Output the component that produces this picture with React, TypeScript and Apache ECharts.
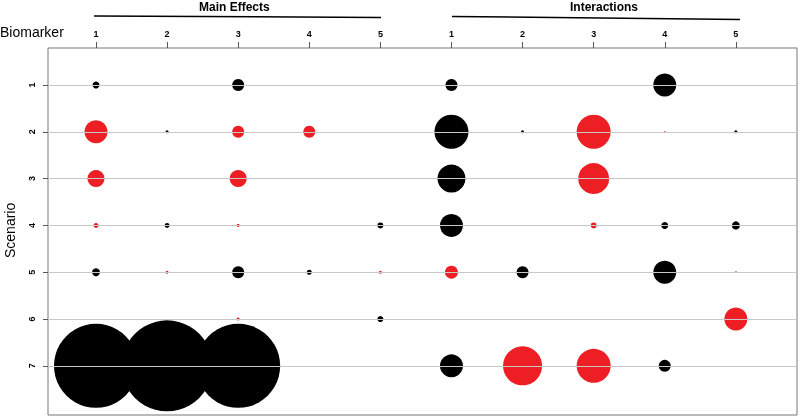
import React, { useEffect, useRef } from "react";
import * as echarts from "echarts";

const scenarios = [1, 2, 3, 4, 5, 6, 7];
const biomarkers = [1, 2, 3, 4, 5];
const groupTitles = ["Main Effects", "Interactions"];
// signed circle diameters: positive = black, negative = red
const mainEffects = [
  [7, 0, 12, 0, 0],
  [-23, 3, -12, -12, 0],
  [-17, 0, -17, 0, 0],
  [-5, 5, -3, 0, 6],
  [8, -3, 12, 5, -3],
  [0, 0, -3, 0, 6],
  [84, 91, 84, 0, 0],
];
const interactions = [
  [12, 0, 0, 23, 0],
  [34, 3, -34, -1.5, 3],
  [28, 0, -31, 0, 0],
  [23, 0, -6, 7, 8],
  [-13, 12, 0, 23, 1.5],
  [0, 0, 0, 0, -23],
  [23, -39, -34, 12, 0],
];

const FONT = "'Liberation Sans', Arial, sans-serif";

export default function App() {
  const ref = useRef<HTMLDivElement>(null);
  useEffect(() => {
    if (!ref.current) return;
    const chart = echarts.init(ref.current, undefined, { renderer: "svg" });
    const black: number[][] = [];
    const red: number[][] = [];
    scenarios.forEach((s, i) => {
      biomarkers.forEach((b, j) => {
        const m = mainEffects[i][j];
        if (m !== 0) (m > 0 ? black : red).push([b, s, Math.abs(m)]);
        const it = interactions[i][j];
        if (it !== 0)
          (it > 0 ? black : red).push([b + biomarkers.length, s, Math.abs(it)]);
      });
    });
    const xTicks = [...biomarkers, ...biomarkers.map((b) => b + biomarkers.length)];
    chart.setOption({
      animation: false,
      grid: {
        left: 48,
        top: 48,
        right: 3,
        bottom: 3,
        show: true,
        borderColor: "#777",
        borderWidth: 1,
        backgroundColor: "#fff",
      },
      xAxis: {
        type: "value",
        position: "top",
        min: 0.325,
        max: 10.86,
        axisLine: { show: false },
        splitLine: { show: false },
        axisTick: {
          show: true,
          length: 6,
          customValues: xTicks,
          lineStyle: { color: "#555" },
        },
        axisLabel: {
          customValues: xTicks,
          margin: 10,
          fontFamily: FONT,
          fontWeight: "bold",
          fontSize: 9,
          color: "#000",
          formatter: (v: number) =>
            String(v > biomarkers.length ? v - biomarkers.length : v),
        },
      },
      yAxis: {
        type: "value",
        inverse: true,
        min: 0.21,
        max: 8.05,
        axisLine: { show: false },
        splitLine: { show: false },
        axisTick: {
          show: true,
          length: 5,
          customValues: scenarios,
          lineStyle: { color: "#555" },
        },
        axisLabel: {
          customValues: scenarios,
          rotate: 90,
          margin: 12,
          fontFamily: FONT,
          fontWeight: "bold",
          fontSize: 9,
          color: "#000",
        },
      },
      series: [
        {
          type: "scatter",
          data: black,
          symbol: "circle",
          symbolSize: (d: number[]) => d[2],
          itemStyle: { color: "#000", opacity: 1 },
          z: 2,
          silent: true,
        },
        {
          type: "scatter",
          data: red,
          symbol: "circle",
          symbolSize: (d: number[]) => d[2],
          itemStyle: { color: "#ED1F24", opacity: 1 },
          z: 2,
          silent: true,
        },
        {
          type: "scatter",
          data: [],
          z: 5,
          silent: true,
          markLine: {
            silent: true,
            symbol: "none",
            label: { show: false },
            lineStyle: { color: "#c8c8c8", type: "solid", width: 1 },
            data: scenarios.map((s) => ({ yAxis: s })),
          },
        },
      ],
      graphic: [
        {
          type: "text",
          left: 236 - 37,
          top: 1,
          style: {
            text: groupTitles[0],
            font: `bold 12px ${FONT}`,
            fill: "#000",
          },
        },
        {
          type: "text",
          left: 605 - 35,
          top: 1,
          style: {
            text: groupTitles[1],
            font: `bold 12px ${FONT}`,
            fill: "#000",
          },
        },
        {
          type: "line",
          shape: { x1: 94, y1: 16, x2: 381, y2: 17.5 },
          style: { stroke: "#000", lineWidth: 1.5 },
        },
        {
          type: "line",
          shape: { x1: 452, y1: 16.5, x2: 740, y2: 19.5 },
          style: { stroke: "#000", lineWidth: 1.5 },
        },
        {
          type: "text",
          left: 0,
          top: 25,
          style: { text: "Biomarker", font: `14px ${FONT}`, fill: "#000" },
        },
        {
          type: "text",
          x: 3,
          y: 258,
          rotation: Math.PI / 2,
          style: { text: "Scenario", font: `14px ${FONT}`, fill: "#000" },
        },
      ],
    });
    return () => chart.dispose();
  }, []);
  return (
    <div
      ref={ref}
      style={{ position: "fixed", left: 0, top: 0, width: 800, height: 418 }}
    />
  );
}
